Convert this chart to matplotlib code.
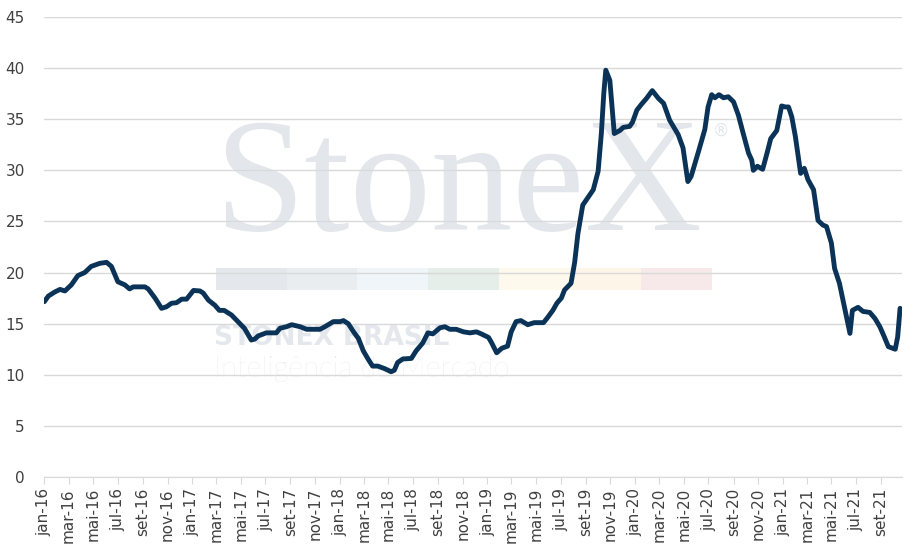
import pandas as pd
import matplotlib
matplotlib.use("Agg")
import matplotlib.pyplot as plt
import matplotlib.dates as mdates
from matplotlib.patches import Rectangle

# weekly-ish readings of the series (date, value)
dates = ['2016-01-01', '2016-01-11', '2016-01-27', '2016-02-09', '2016-02-21', '2016-03-08',
         '2016-03-24', '2016-04-10', '2016-04-26', '2016-05-17', '2016-06-03', '2016-06-15',
         '2016-07-01', '2016-07-18', '2016-07-30', '2016-08-08', '2016-09-06', '2016-09-14',
         '2016-10-01', '2016-10-17', '2016-10-29', '2016-11-11', '2016-11-23', '2016-12-06',
         '2016-12-18', '2017-01-04', '2017-01-20', '2017-01-28', '2017-02-10', '2017-02-26',
         '2017-03-09', '2017-03-21', '2017-04-08', '2017-04-24', '2017-05-10', '2017-05-27',
         '2017-06-05', '2017-06-13', '2017-07-03', '2017-07-28', '2017-08-06', '2017-08-22',
         '2017-09-04', '2017-09-25', '2017-10-11', '2017-11-13', '2017-11-25', '2017-12-16',
         '2018-01-02', '2018-01-10', '2018-01-22', '2018-02-04', '2018-02-16', '2018-02-28',
         '2018-03-11', '2018-03-23', '2018-04-05', '2018-04-22', '2018-05-08', '2018-05-16',
         '2018-05-24', '2018-06-06', '2018-06-27', '2018-07-09', '2018-07-25', '2018-08-07',
         '2018-08-19', '2018-09-06', '2018-09-18', '2018-09-30', '2018-10-16', '2018-11-03',
         '2018-11-19', '2018-12-05', '2018-12-17', '2019-01-04', '2019-01-12', '2019-01-24',
         '2019-02-06', '2019-02-20', '2019-03-01', '2019-03-13', '2019-03-25', '2019-04-11',
         '2019-04-27', '2019-05-20', '2019-05-30', '2019-06-12', '2019-06-22', '2019-07-03',
         '2019-07-11', '2019-07-27', '2019-08-05', '2019-08-13', '2019-08-25', '2019-09-08',
         '2019-09-20', '2019-10-02', '2019-10-10', '2019-10-16', '2019-10-21', '2019-10-31',
         '2019-11-11', '2019-11-25', '2019-12-03', '2019-12-19', '2019-12-26', '2020-01-06',
         '2020-01-18', '2020-01-30', '2020-02-13', '2020-02-28', '2020-03-12', '2020-03-27',
         '2020-04-05', '2020-04-17', '2020-04-29', '2020-05-11', '2020-05-19', '2020-06-06',
         '2020-06-22', '2020-06-30', '2020-07-09', '2020-07-17', '2020-07-27', '2020-08-07',
         '2020-08-19', '2020-09-01', '2020-09-13', '2020-09-25', '2020-10-08', '2020-10-16',
         '2020-10-20', '2020-10-30', '2020-11-12', '2020-11-23', '2020-12-02', '2020-12-17',
         '2020-12-29', '2021-01-07', '2021-01-15', '2021-01-23', '2021-02-01', '2021-02-14',
         '2021-02-23', '2021-03-04', '2021-03-18', '2021-03-29', '2021-04-10', '2021-04-19',
         '2021-05-01', '2021-05-09', '2021-05-21', '2021-06-04', '2021-06-16', '2021-06-22',
         '2021-07-06', '2021-07-18', '2021-08-04', '2021-08-17', '2021-08-29', '2021-09-09',
         '2021-09-19', '2021-10-06', '2021-10-12', '2021-10-18']
values = [17.15, 17.7, 18.1, 18.35, 18.2, 18.8,
          19.7, 20.0, 20.6, 20.9, 21.0, 20.6,
          19.1, 18.8, 18.4, 18.6, 18.6, 18.4,
          17.5, 16.5, 16.65, 17.0, 17.05, 17.4,
          17.4, 18.25, 18.2, 18.0, 17.3, 16.8,
          16.3, 16.3, 15.85, 15.2, 14.55, 13.4,
          13.5, 13.8, 14.1, 14.1, 14.55, 14.7,
          14.9, 14.7, 14.45, 14.45, 14.7, 15.2,
          15.2, 15.3, 15.0, 14.2, 13.55, 12.35,
          11.6, 10.85, 10.85, 10.6, 10.3, 10.45,
          11.2, 11.55, 11.6, 12.35, 13.1, 14.1,
          14.0, 14.6, 14.7, 14.45, 14.45, 14.2,
          14.1, 14.2, 14.0, 13.65, 13.1, 12.15,
          12.6, 12.8, 14.2, 15.2, 15.3, 14.9,
          15.1, 15.1, 15.6, 16.3, 17.0, 17.5,
          18.3, 18.95, 21.0, 23.8, 26.6, 27.4,
          28.1, 29.9, 33.6, 37.5, 39.8, 38.8,
          33.6, 33.9, 34.2, 34.3, 34.7, 35.9,
          36.5, 37.05, 37.8, 37.05, 36.55, 34.9,
          34.3, 33.5, 32.2, 28.9, 29.4, 31.8,
          34.0, 36.2, 37.4, 37.1, 37.4, 37.1,
          37.2, 36.7, 35.4, 33.6, 31.7, 31.0,
          30.0, 30.4, 30.1, 31.7, 33.1, 33.9,
          36.3, 36.2, 36.2, 35.25, 33.3, 29.7,
          30.2, 29.1, 28.1, 25.1, 24.65, 24.5,
          22.9, 20.4, 18.95, 16.3, 14.05, 16.3,
          16.6, 16.2, 16.1, 15.5, 14.7, 13.7,
          12.75, 12.5, 13.7, 16.5]

meses = ['jan', 'fev', 'mar', 'abr', 'mai', 'jun', 'jul', 'ago', 'set', 'out', 'nov', 'dez']
bar_colors = ['#e4e8ec', '#e9edf0', '#eff5f9', '#e5eee9', '#fdf9ec', '#fdf5e8', '#f7e8e9']

df = pd.DataFrame({'data': pd.to_datetime(dates), 'valor': values})

W, H = 916, 552
fig = plt.figure(figsize=(W / 100, H / 100), dpi=100)
ax = fig.add_axes([44.3 / W, 1 - 477 / H, (901.7 - 44.3) / W, (477 - 17) / H])

def fx(px):
    return px / W

def fy(py):
    return 1 - py / H

# watermark (behind grid)
ax.text(fx(214), fy(230), 'StoneX', transform=fig.transFigure, fontsize=117,
        family='Liberation Serif', color='#e3e7ec', va='baseline', ha='left', zorder=0.1)
ax.text(fx(713), fy(136), '®', transform=fig.transFigure, fontsize=12,
        color='#e3e7ec', va='baseline', ha='left', zorder=0.1)
seg = (711.7 - 215.7) / len(bar_colors)
for i, c in enumerate(bar_colors):
    ax.add_patch(Rectangle((fx(215.7 + i * seg), fy(290.3)), seg / W, 22.3 / H,
                           transform=fig.transFigure, facecolor=c, edgecolor='none', zorder=0.1))
ax.text(fx(214), fy(345), 'STONEX BRASIL', transform=fig.transFigure, fontsize=19,
        fontweight='bold', color='#e4e8ed', va='baseline', ha='left', zorder=0.1)
ax.text(fx(214), fy(377), 'Inteligência de Mercado', transform=fig.transFigure, fontsize=21,
        family='Lato', fontweight='light', color='#e0e4ea', va='baseline', ha='left', zorder=0.1)

ax.plot(df['data'], df['valor'], color='#0b3357', linewidth=3.5, solid_joinstyle='round',
        solid_capstyle='round', zorder=3)

ax.set_ylim(0, 45)
ax.set_yticks(range(0, 50, 5))
ax.set_xlim(pd.Timestamp('2016-01-01'), pd.Timestamp('2021-10-22'))
ax.xaxis.set_major_locator(mdates.MonthLocator(bymonth=[1, 3, 5, 7, 9, 11]))
ax.xaxis.set_major_formatter(plt.FuncFormatter(
    lambda v, pos: meses[mdates.num2date(v).month - 1] + '-' + mdates.num2date(v).strftime('%y')))

ax.grid(axis='y', color='#d9d9d9', linewidth=1)
ax.set_axisbelow(True)
for s in ['top', 'right', 'left']:
    ax.spines[s].set_visible(False)
ax.spines['bottom'].set_color('#d9d9d9')
ax.tick_params(axis='y', length=0, pad=14, labelsize=11, labelcolor='#404040')
ax.tick_params(axis='x', length=5, color='#d9d9d9', labelsize=11, labelcolor='#404040',
               labelrotation=90, pad=3)

fig.savefig('out.png', dpi=100)
